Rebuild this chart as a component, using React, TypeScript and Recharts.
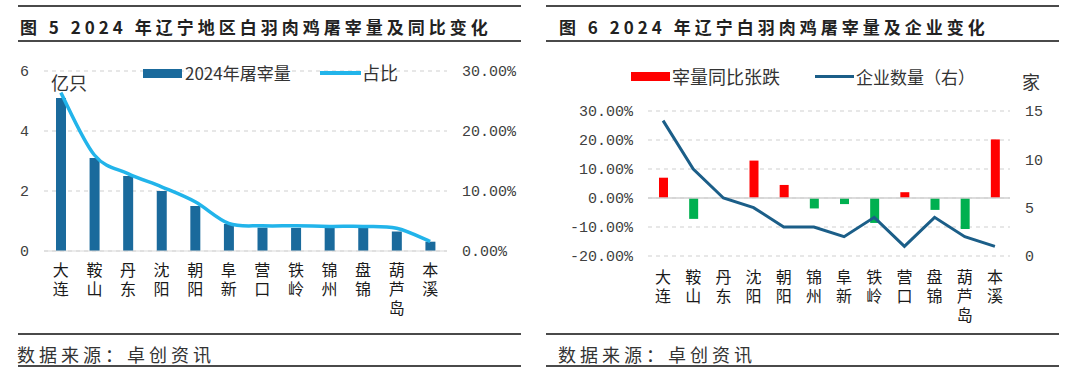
import React from 'react';
import { ComposedChart, Bar, Line, XAxis, YAxis, CartesianGrid, Cell, ReferenceLine } from 'recharts';

// ---------- Data: left chart (图5) ----------
const leftCities = ['大连', '鞍山', '丹东', '沈阳', '朝阳', '阜新', '营口', '铁岭', '锦州', '盘锦', '葫芦岛', '本溪'];
const slaughter2024 = [5.1, 3.1, 2.5, 2.0, 1.5, 0.9, 0.78, 0.77, 0.77, 0.77, 0.65, 0.31]; // 亿只
const sharePct = [26.4, 16.0, 12.9, 10.7, 8.2, 4.6, 4.2, 4.2, 4.1, 4.1, 3.8, 1.6]; // %
const leftAxisTicks = [0, 2, 4, 6];
const shareAxisTicks = [0, 10, 20, 30];

// ---------- Data: right chart (图6) ----------
const rightCities = ['大连', '鞍山', '丹东', '沈阳', '朝阳', '锦州', '阜新', '铁岭', '营口', '盘锦', '葫芦岛', '本溪'];
const yoyPct = [7.0, -7.2, 0, 12.9, 4.5, -3.6, -2.1, -8.6, 2.0, -4.1, -10.7, 20.2]; // %
const companyCount = [14, 9, 6, 5, 3, 3, 2, 4, 1, 4, 2, 1];
const yoyAxisTicks = [-20, -10, 0, 10, 20, 30];
const countAxisTicks = [0, 5, 10, 15];

const leftTitle = '图 5 2024 年辽宁地区白羽肉鸡屠宰量及同比变化';
const rightTitle = '图 6 2024 年辽宁白羽肉鸡屠宰量及企业变化';
const sourceText = '数据来源：卓创资讯';

const leftData = leftCities.map((city, i) => ({ city, volume: slaughter2024[i], share: sharePct[i] }));
const rightData = rightCities.map((city, i) => ({ city, yoy: yoyPct[i], count: companyCount[i] }));

const FONT = "'Noto Sans CJK SC', 'Noto Sans', sans-serif";
const MONO = "'Liberation Mono', 'DejaVu Sans Mono', monospace";

const BAR_BLUE = '#1A6A9C';
const LINE_CYAN = '#22B4EA';
const LINE_NAVY = '#1B5E88';
const RED = '#FF0000';
const GREEN = '#00B050';

const pct = (v: number) => `${v.toFixed(2)}%`;

// Excel-like smoothed line (Catmull-Rom style cubic segments)
const smoothCurve = (context: any) => {
  let pts: number[][] = [];
  return {
    areaStart() {},
    areaEnd() {},
    lineStart() {
      pts = [];
    },
    point(x: number, y: number) {
      pts.push([+x, +y]);
    },
    lineEnd() {
      if (!pts.length) return;
      context.moveTo(pts[0][0], pts[0][1]);
      const s = 1 / 6;
      for (let i = 0; i < pts.length - 1; i++) {
        const p0 = pts[i - 1] || pts[i];
        const p1 = pts[i];
        const p2 = pts[i + 1];
        const p3 = pts[i + 2] || pts[i + 1];
        context.bezierCurveTo(
          p1[0] + (p2[0] - p0[0]) * s,
          p1[1] + (p2[1] - p0[1]) * s,
          p2[0] - (p3[0] - p1[0]) * s,
          p2[1] - (p3[1] - p1[1]) * s,
          p2[0],
          p2[1]
        );
      }
    },
  };
};

// vertical (top-to-bottom) category label as one text element
const makeVerticalTick = (startOffset: number) => (props: any) => {
  const { x, y, payload } = props;
  return (
    <text
      x={x}
      y={y + startOffset}
      fontFamily={FONT}
      fontSize={16}
      fill="#1a1a1a"
      letterSpacing={3}
      style={{ writingMode: 'vertical-rl' as any }}
    >
      {String(payload.value)}
    </text>
  );
};

const tickStyle = { fontFamily: MONO, fontSize: 15, fill: '#404040' };

function Txt({ x, cy, size, children, bold, color, ls }: any) {
  return (
    <div
      style={{
        position: 'absolute',
        left: x,
        top: cy - size * 0.55,
        fontSize: size,
        lineHeight: 1,
        fontFamily: FONT,
        fontWeight: bold ? 700 : 400,
        color: color || '#333',
        letterSpacing: ls || 0,
        whiteSpace: 'nowrap',
      }}
    >
      {children}
    </div>
  );
}

function Rule({ x, y, w, h }: any) {
  return <div style={{ position: 'absolute', left: x, top: y, width: w, height: h, background: '#4a4a4a' }} />;
}

function Frame({ x, w, title, titleX, footX }: any) {
  return (
    <>
      <Rule x={x} y={5} w={w} h={2} />
      <Txt x={titleX} cy={27} size={17} bold color="#222" ls={4}>
        {title}
      </Txt>
      <Rule x={x} y={40} w={w} h={2} />
      <Rule x={x} y={333} w={w} h={2} />
      <Txt x={footX} cy={354.5} size={18} color="#333" ls={4}>
        {sourceText}
      </Txt>
      <Rule x={x} y={365} w={w} h={2} />
    </>
  );
}

function LeftChart() {
  return (
    <div style={{ position: 'absolute', left: 0, top: 0 }}>
      <ComposedChart width={534} height={330} data={leftData} margin={{ top: 71, right: 0, bottom: 9, left: 0 }}>
        <CartesianGrid yAxisId="l" vertical={false} stroke="#cfcfcf" strokeDasharray="4 4" />
        <XAxis
          dataKey="city"
          height={70}
          interval={0}
          tickSize={0}
          tickMargin={0}
          tickLine={false}
          axisLine={{ stroke: '#d9d9d9' }}
          tick={makeVerticalTick(11)}
        />
        <YAxis
          yAxisId="l"
          width={44}
          domain={[0, 6]}
          ticks={leftAxisTicks}
          interval={0}
          tickSize={0}
          tickMargin={15}
          axisLine={false}
          tickLine={false}
          tick={tickStyle}
        />
        <YAxis
          yAxisId="r"
          orientation="right"
          width={87}
          domain={[0, 30]}
          ticks={shareAxisTicks}
          interval={0}
          tickSize={0}
          tickMargin={15}
          axisLine={false}
          tickLine={false}
          tick={tickStyle}
          tickFormatter={pct}
        />
        <Bar yAxisId="l" dataKey="volume" name="2024年屠宰量" fill={BAR_BLUE} barSize={10} isAnimationActive={false} />
        <Line
          yAxisId="r"
          dataKey="share"
          name="占比"
          type={smoothCurve as any}
          stroke={LINE_CYAN}
          strokeWidth={3.5}
          dot={false}
          isAnimationActive={false}
        />
      </ComposedChart>
    </div>
  );
}

function RightChart() {
  return (
    <div style={{ position: 'absolute', left: 534, top: 0 }}>
      <ComposedChart width={534} height={330} data={rightData} margin={{ top: 111, right: 0, bottom: 4, left: 0 }}>
        <CartesianGrid yAxisId="l" vertical={false} stroke="#cfcfcf" strokeDasharray="4 4" />
        <XAxis
          dataKey="city"
          height={70}
          interval={0}
          tickSize={0}
          tickMargin={0}
          tickLine={false}
          axisLine={false}
          tick={makeVerticalTick(13)}
        />
        <YAxis
          yAxisId="l"
          width={114}
          domain={[-20, 30]}
          ticks={yoyAxisTicks}
          interval={0}
          tickSize={0}
          tickMargin={15}
          axisLine={false}
          tickLine={false}
          tick={tickStyle}
          tickFormatter={pct}
        />
        <YAxis
          yAxisId="r"
          orientation="right"
          width={58}
          domain={[0, 15]}
          ticks={countAxisTicks}
          interval={0}
          tickSize={0}
          tickMargin={15}
          axisLine={false}
          tickLine={false}
          tick={tickStyle}
        />
        <ReferenceLine yAxisId="l" y={0} stroke="#d0d0d0" strokeWidth={1.5} />
        <Bar yAxisId="l" dataKey="yoy" name="宰量同比张跌" barSize={9} isAnimationActive={false}>
          {rightData.map((d, i) => (
            <Cell key={i} fill={d.yoy >= 0 ? RED : GREEN} />
          ))}
        </Bar>
        <Line
          yAxisId="r"
          dataKey="count"
          name="企业数量（右）"
          type="linear"
          stroke={LINE_NAVY}
          strokeWidth={3}
          dot={false}
          isAnimationActive={false}
        />
      </ComposedChart>
    </div>
  );
}

export default function App() {
  return (
    <div
      style={{
        position: 'absolute',
        left: 0,
        top: 0,
        width: 1068,
        height: 372,
        background: '#fff',
        overflow: 'hidden',
      }}
    >
      <Frame x={18} w={503} title={leftTitle} titleX={20} footX={17} />
      <Frame x={546} w={513} title={rightTitle} titleX={559} footX={558} />
      <LeftChart />
      <RightChart />
      {/* left legend */}
      <div style={{ position: 'absolute', left: 143, top: 69, width: 39, height: 9, background: BAR_BLUE }} />
      <Txt x={185} cy={73} size={17} color="#333">
        2024年屠宰量
      </Txt>
      <div style={{ position: 'absolute', left: 320, top: 71, width: 41, height: 4, background: LINE_CYAN }} />
      <Txt x={362} cy={73} size={18} color="#333">
        占比
      </Txt>
      <Txt x={51} cy={83} size={18} color="#333">
        亿只
      </Txt>
      {/* right legend */}
      <div style={{ position: 'absolute', left: 631, top: 72, width: 39, height: 9, background: RED }} />
      <Txt x={672} cy={77} size={18} color="#333">
        宰量同比张跌
      </Txt>
      <div style={{ position: 'absolute', left: 815, top: 75, width: 39, height: 3, background: LINE_NAVY }} />
      <Txt x={856} cy={77} size={17} color="#333">
        企业数量（右）
      </Txt>
      <Txt x={1022} cy={82} size={18} color="#333">
        家
      </Txt>
    </div>
  );
}
